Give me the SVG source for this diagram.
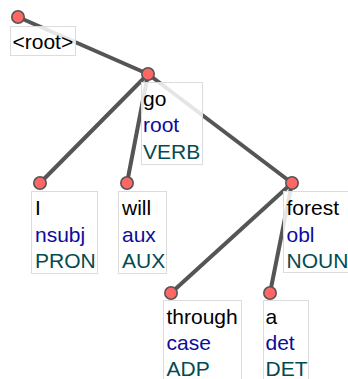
<svg xmlns="http://www.w3.org/2000/svg" width="348" height="379" viewBox="0 0 348 379">
<style>
.edge{stroke:#555;stroke-width:4;stroke-linecap:round;fill:none}
.box{fill:#fff;fill-opacity:0.85;stroke:#dcdcdc;stroke-width:1}
.dot{fill:#f66;stroke:#555;stroke-width:1.6}
text{font-family:"Liberation Sans",Arial,sans-serif;font-size:21px}
.w{fill:#000}
.d{fill:#0c0c9c}
.p{fill:#034b50}
</style>
<rect width="348" height="379" fill="#fff"/>
<g id="connectors">
<line class="edge" x1="18" y1="17" x2="148" y2="74"/>
<line class="edge" x1="148" y1="74" x2="40" y2="183"/>
<line class="edge" x1="148" y1="74" x2="127" y2="183"/>
<line class="edge" x1="148" y1="74" x2="292" y2="183"/>
<line class="edge" x1="292" y1="183" x2="171" y2="293"/>
<line class="edge" x1="292" y1="183" x2="270" y2="293"/>
</g>
<g id="node-root">
<rect class="box" x="10.5" y="26.5" width="65" height="29"/>
<circle class="dot" cx="18" cy="17" r="6.2"/>
<text class="w" x="12.5" y="49">&lt;root&gt;</text>
</g>
<g id="node-go">
<rect class="box" x="141.5" y="82.5" width="61" height="82"/>
<circle class="dot" cx="148" cy="74" r="6.2"/>
<text class="w" x="143" y="105.5">go</text>
<text class="d" x="143" y="132">root</text>
<text class="p" x="143" y="158.5">VERB</text>
</g>
<g id="node-I">
<rect class="box" x="31.5" y="191.5" width="66" height="82"/>
<circle class="dot" cx="40" cy="183" r="6.2"/>
<text class="w" x="35" y="215">I</text>
<text class="d" x="35" y="241.5">nsubj</text>
<text class="p" x="35" y="268">PRON</text>
</g>
<g id="node-will">
<rect class="box" x="118.5" y="191.5" width="48" height="82"/>
<circle class="dot" cx="127" cy="183" r="6.2"/>
<text class="w" x="122" y="215">will</text>
<text class="d" x="122" y="241.5">aux</text>
<text class="p" x="122" y="268">AUX</text>
</g>
<g id="node-forest">
<rect class="box" x="283.5" y="191.5" width="70" height="81"/>
<circle class="dot" cx="292" cy="183" r="6.2"/>
<text class="w" x="286.5" y="215">forest</text>
<text class="d" x="286.5" y="241.5">obl</text>
<text class="p" x="286.5" y="268">NOUN</text>
</g>
<g id="node-through">
<rect class="box" x="163.5" y="300.5" width="78" height="82"/>
<circle class="dot" cx="171" cy="293" r="6.2"/>
<text class="w" x="166.5" y="323.5">through</text>
<text class="d" x="166.5" y="350">case</text>
<text class="p" x="166.5" y="376">ADP</text>
</g>
<g id="node-a">
<rect class="box" x="263.5" y="300.5" width="45" height="82"/>
<circle class="dot" cx="270" cy="293" r="6.2"/>
<text class="w" x="265.5" y="323.5">a</text>
<text class="d" x="265.5" y="350">det</text>
<text class="p" x="265.5" y="376">DET</text>
</g>
</svg>
